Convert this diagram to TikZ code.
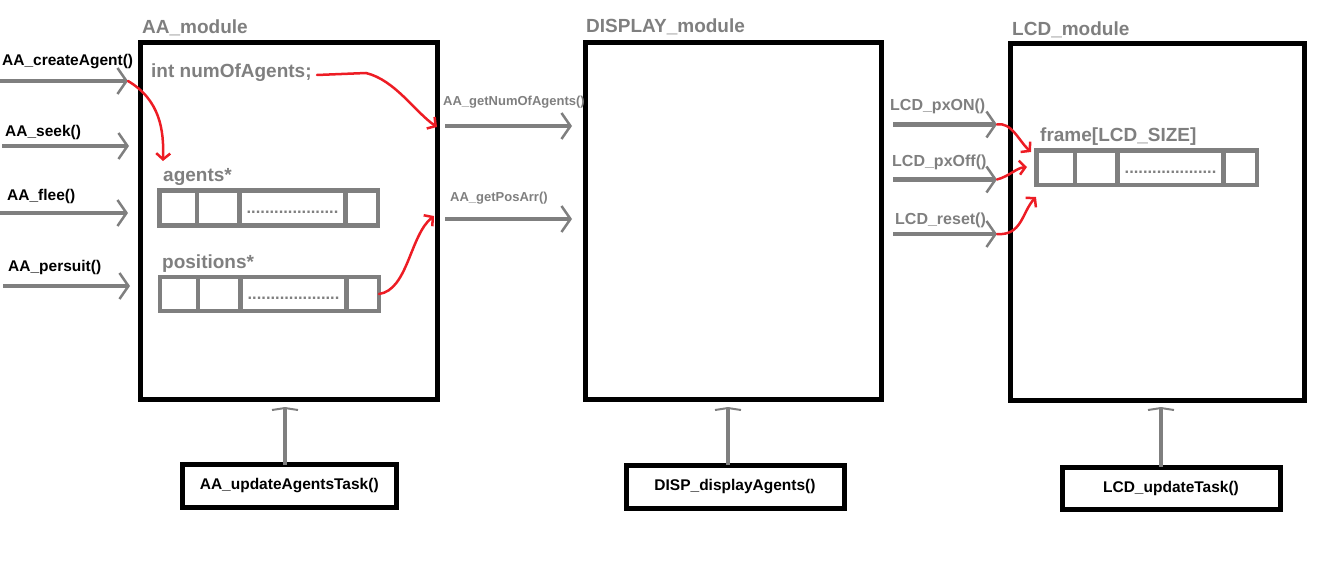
\documentclass[tikz,border=0pt]{standalone}
\usepackage{fontspec}
\setmainfont{Liberation Sans}
\usepackage{xcolor}
\usepackage{tikz}
\usetikzlibrary{arrows.meta,calc}
\definecolor{pencil}{HTML}{7F7F7F}
\definecolor{marker}{HTML}{ED1C24}
\newcommand{\boldpt}[1]{\bfseries\fontsize{#1}{#1}\selectfont}
\newcommand{\dotrow}{....................}

\begin{document}
\begin{tikzpicture}[x=1pt,y=-1pt,
  module/.style={draw=black,line width=5pt,inner sep=0pt,outer sep=0pt},
  modlab/.style={text=pencil,font=\boldpt{19},anchor=base west,inner sep=0pt},
  fieldlab/.style={text=pencil,font=\boldpt{19},anchor=base west,inner sep=0pt},
  calllab/.style={font=\boldpt{15.5},anchor=base west,inner sep=0pt},
  arrbox/.style={draw=pencil,line width=4.5pt,inner sep=0pt,outer sep=0pt},
  cellline/.style={draw=pencil,line width=4.5pt},
  dots/.style={text=pencil,font=\boldpt{16.5},anchor=base,inner sep=0pt},
  callarr/.style={draw=pencil,line width=4.5pt,-{Straight Barb[length=9pt,width=26pt,line width=2.5pt]}},
  redarr/.style={draw=marker,line width=2.5pt,line cap=round,-{Straight Barb[length=6pt,width=14pt,line width=2.5pt]}},
  taskbox/.style={draw=black,line width=5pt,font=\boldpt{15.5},minimum height=43pt,inner sep=0pt,outer sep=0pt},
  taskarr/.style={draw=pencil,line width=4pt,-{Straight Barb[length=2pt,width=26pt,line width=2pt]}}]
  \useasboundingbox (0,0) rectangle (1323,570);
  % modules
  \node[module,minimum width=297pt,minimum height=357pt] (aa) at (288.5,220.5) {};
  \node[module,minimum width=296pt,minimum height=357pt] (disp) at (733,220.75) {};
  \node[module,minimum width=294pt,minimum height=357pt] (lcd) at (1157,221.5) {};
  \node[modlab] (aalab) at (142,33.5) {AA\_module};
  \node[modlab] (displab) at (586,32.5) {DISPLAY\_module};
  \node[modlab] (lcdlab) at (1012,35) {LCD\_module};
  % inputs of AA
  \foreach \fn/\lx/\ly/\sx/\ex/\ay [count=\i] in {{AA\_createAgent()}/2/65/0/128/81,{AA\_seek()}/5/136/2/129/146,{AA\_flee()}/7/200/0/128/213,{AA\_persuit()}/8/271/3/130/286}{
    \node[calllab] (in\i) at (\lx,\ly) {\fn};
    \coordinate (ins\i) at (\sx,\ay);
    \coordinate (ine\i) at (\ex,\ay);
    \draw[callarr] (ins\i) -- (ine\i);}
  % fields of AA
  \node[fieldlab] (numlab) at (151,77) {int numOfAgents;};
  \node[fieldlab] (aglab) at (163,181) {agents*};
  \node[arrbox,minimum width=218.5pt,minimum height=35pt] (agarr) at (268.75,208) {};
  \foreach \d in {197,239.5,345.5} \draw[cellline] (\d,190.5) -- (\d,225.5);
  \node[dots] (agdots) at (292.5,213) {\dotrow};
  \node[fieldlab] (poslab) at (162,268) {positions*};
  \node[arrbox,minimum width=219pt,minimum height=34pt] (posarr) at (269.5,294) {};
  \foreach \d in {198,240.5,346.5} \draw[cellline] (\d,277) -- (\d,311);
  \node[dots] (posdots) at (293.5,299) {\dotrow};
  % outputs of AA
  \node[text=pencil,font=\boldpt{13},anchor=base west,inner sep=0pt] (getnumlab) at (443,105) {AA\_getNumOfAgents()};
  \coordinate (getnums) at (445,126);
  \coordinate (getnume) at (572,126);
  \draw[callarr] (getnums) -- (getnume);
  \node[text=pencil,font=\boldpt{13},anchor=base west,inner sep=0pt] (getposlab) at (450,201.5) {AA\_getPosArr()};
  \coordinate (getposs) at (445,219);
  \coordinate (getpose) at (572,219);
  \draw[callarr] (getposs) -- (getpose);
  % inputs of LCD
  \foreach \fn/\lx/\ly/\ay [count=\i] in {{LCD\_pxON()}/890/110.5/124.5,{LCD\_pxOff()}/892/166/179.5,{LCD\_reset()}/895/224.5/234}{
    \node[calllab,text=pencil,font=\boldpt{16}] (px\i) at (\lx,\ly) {\fn};
    \coordinate (pxs\i) at (893,\ay);
    \coordinate (pxe\i) at (997,\ay);
    \draw[callarr] (pxs\i) -- (pxe\i);}
  \node[fieldlab] (framelab) at (1040,141.5) {frame[LCD\_SIZE]};
  \node[arrbox,minimum width=220.5pt,minimum height=34.5pt] (framearr) at (1146.75,167.75) {};
  \foreach \d in {1075,1117.7,1223.3} \draw[cellline] (\d,150.5) -- (\d,185);
  \node[dots] (framedots) at (1170.5,173.3) {\dotrow};
  % red links
  \coordinate (agtip) at (163,161);
  \draw[redarr] (ine1) .. controls (160,100) and (164,130) .. (agtip);
  \coordinate (numtip) at (317,75);
  \coordinate (numin) at (437,127);
  \draw[redarr] (numtip) -- (366,73) .. controls (395,80) and (415,112) .. (numin);
  \coordinate (posin) at (434,216);
  \draw[redarr] (posarr.east) .. controls (408,290) and (410,235) .. (posin);
  \coordinate (fr1) at (1031,152);
  \coordinate (fr2) at (1027,167);
  \coordinate (fr3) at (1036,197);
  \draw[redarr] (pxe1) .. controls (1012,122) and (1018,140) .. (fr1);
  \draw[redarr] (pxe2) .. controls (1010,176) and (1016,168) .. (fr2);
  \draw[redarr] (pxe3) .. controls (1022,236) and (1022,212) .. (fr3);
  % tasks
  \node[taskbox,minimum width=214pt] (aatask) at (289.25,486) {AA\_updateAgentsTask()};
  \node[taskbox,minimum width=218pt] (disptask) at (735,486.5) {DISP\_displayAgents()};
  \node[taskbox,minimum width=218pt,minimum height=42pt] (lcdtask) at (1171,488) {LCD\_updateTask()};
  \coordinate (aaup) at (285,407);
  \coordinate (dispup) at (728,407);
  \coordinate (lcdup) at (1161,407);
  \draw[taskarr] (aatask.north -| aaup) -- (aaup);
  \draw[taskarr] (disptask.north -| dispup) -- (dispup);
  \draw[taskarr] (lcdtask.north -| lcdup) -- (lcdup);
\end{tikzpicture}
\end{document}
